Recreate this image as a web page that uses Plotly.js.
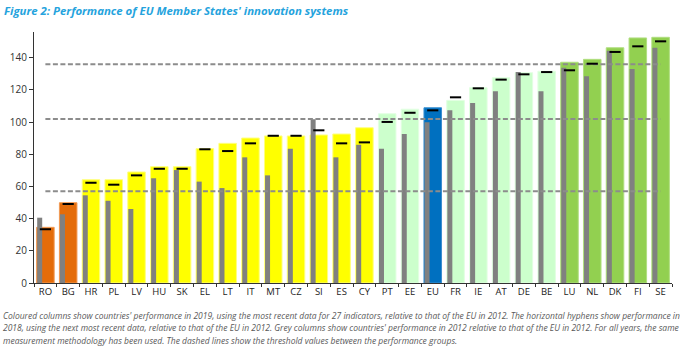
<!DOCTYPE html>
<html>
<head>
<meta charset="utf-8">
<script src="https://cdn.plot.ly/plotly-3.0.1.min.js"></script>
<style>html,body{margin:0;padding:0;background:#fff;}#chart{width:680px;height:348px;}</style>
</head>
<body>
<div id="chart"></div>
<script>
const countries = ["RO","BG","HR","PL","LV","HU","SK","EL","LT","IT","MT","CZ","SI","ES","CY","PT","EE","EU","FR","IE","AT","DE","BE","LU","NL","DK","FI","SE"];
const perf2019 = [34.6,49.9,64.2,64.2,69.0,72.3,72.3,83.5,86.8,90.1,91.4,91.4,92.0,92.6,96.5,105.2,108.0,108.9,113.5,121.4,127.6,130.7,131.6,137.2,139.0,146.2,152.3,152.7];
const perf2012 = [40.6,42.7,54.5,51.1,46.0,65.1,70.2,63.0,59.0,78.1,66.9,83.5,101.7,78.1,86.0,83.5,92.6,99.9,107.3,111.9,119.1,131.1,119.1,133.8,128.5,144.4,133.0,146.2];
const perf2018 = [33.4,49.1,62.3,61.1,66.9,71.0,71.0,83.1,82.0,86.8,91.5,91.5,94.9,86.8,87.4,100.1,105.8,107.3,115.4,121.0,126.4,129.7,131.1,132.2,136.3,143.6,147.1,150.2];
const groups = ["Modest","Modest","Moderate","Moderate","Moderate","Moderate","Moderate","Moderate","Moderate","Moderate","Moderate","Moderate","Moderate","Moderate","Moderate","Strong","Strong","EU","Strong","Strong","Strong","Strong","Strong","Leader","Leader","Leader","Leader","Leader"];
const thresholds = [57.0, 101.9, 135.9];
const yTicks = [0,20,40,60,80,100,120,140];

const groupColor = {Modest:"#E46C0A", Moderate:"#FFFF00", Strong:"#CCFFCC", EU:"#0070C0", Leader:"#92D050"};
const groupEdge = {Modest:"#F09A55", Moderate:"#FFFF80", Strong:"#E2FFE2", EU:"#3A8FD0", Leader:"#B0DE80"};

const traces = [];
traces.push({
  type:"bar", x:countries, y:perf2019, width:0.77,
  marker:{color:groups.map(g=>groupColor[g]), line:{color:groups.map(g=>groupEdge[g]), width:1}},
  hoverinfo:"x+y", showlegend:false
});
traces.push({
  type:"bar", x:countries, y:perf2012, width:0.22, offset:-0.36,
  marker:{color:"#808080", line:{width:0}}, showlegend:false
});
thresholds.forEach(t=>{
  traces.push({
    type:"scatter", mode:"lines", x:[countries[0], countries[countries.length-1]], y:[t,t],
    line:{color:"#8C8C8C", width:2, dash:"5px,2.5px"}, showlegend:false, hoverinfo:"skip"
  });
});
traces.push({
  type:"scatter", mode:"markers", x:countries, y:perf2018,
  marker:{symbol:"line-ew", size:8, line:{color:"#000", width:2}}, showlegend:false
});

const capFont = {family:"Open Sans, sans-serif", size:8.5, color:"#595959"};
const captions = [
  "<i>Coloured columns show countries' performance in 2019, using the most recent data for 27 indicators, relative to that of the EU in 2012. The horizontal hyphens show performance in</i>",
  "<i>2018, using the next most recent data, relative to that of the EU in 2012. Grey columns show countries' performance in 2012 relative to that of the EU in 2012. For all years, the same</i>",
  "<i>measurement methodology has been used. The dashed lines show the threshold values between the performance groups.</i>"
];
const capY = [315, 327.3, 340.7];
const annotations = captions.map((c,i)=>({
  text:c, xref:"paper", yref:"paper", x:(1-34)/638, xanchor:"left",
  y:(348-65-capY[i])/251, yanchor:"middle", showarrow:false, font:capFont, align:"left"
}));

const layout = {
  width:680, height:348,
  margin:{l:34, r:8, t:32, b:65},
  paper_bgcolor:"#fff", plot_bgcolor:"#fff",
  barmode:"overlay",
  title:{text:"<b><i>Figure 2: Performance of EU Member States' innovation systems</i></b>",
    font:{family:"Open Sans, sans-serif", size:11.4, color:"#25A3DD"},
    x:4/680, xanchor:"left", xref:"container", y:1-10.7/348, yref:"container", yanchor:"middle"},
  xaxis:{type:"category", range:[-0.5, 27.5], showgrid:false, zeroline:false,
    showline:true, linecolor:"#333", linewidth:1, ticks:"outside", tickson:"boundaries",
    ticklen:3, tickcolor:"#333", tickangle:0,
    tickfont:{family:"Open Sans, sans-serif", size:9.5, color:"#222"}},
  yaxis:{range:[0,156], tickvals:yTicks, showgrid:false, zeroline:false,
    showline:true, linecolor:"#333", linewidth:1, ticks:"outside", ticklen:4, tickcolor:"#333",
    tickfont:{family:"Open Sans, sans-serif", size:10, color:"#333"}},
  annotations:annotations,
  showlegend:false
};
Plotly.newPlot("chart", traces, layout, {displayModeBar:false, staticPlot:true});
</script>
</body>
</html>
